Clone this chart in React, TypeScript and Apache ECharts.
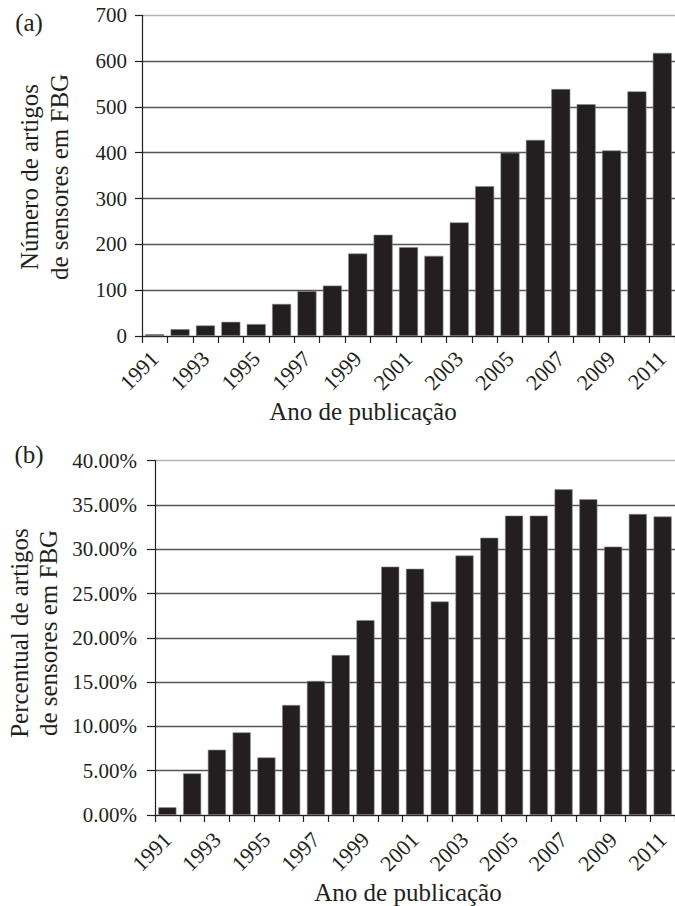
import React, { useEffect, useRef } from "react";
import * as echarts from "echarts";

const years = [
  "1991", "1992", "1993", "1994", "1995", "1996", "1997", "1998", "1999", "2000",
  "2001", "2002", "2003", "2004", "2005", "2006", "2007", "2008", "2009", "2010", "2011",
];
const articleCounts = [4, 15, 23, 31, 26, 70, 98, 110, 180, 221, 194, 175, 248, 327, 400, 428, 539, 506, 405, 534, 618];
const articlePercents = [0.87, 4.7, 7.37, 9.33, 6.5, 12.42, 15.13, 18.06, 22.0, 28.04, 27.8, 24.1, 29.3, 31.3, 33.8, 33.8, 36.77, 35.64, 30.3, 33.98, 33.7];

const panelLabels = ["(a)", "(b)"];
const yTitleTop = ["Número de artigos", "de sensores em FBG"];
const yTitleBottom = ["Percentual de artigos", "de sensores em FBG"];
const xTitle = "Ano de publicação";

const FONT = "Liberation Serif";
const INK = "#231f20";

export default function App() {
  const ref = useRef<HTMLDivElement>(null);
  useEffect(() => {
    if (!ref.current) return;
    const chart = echarts.init(ref.current, undefined, { renderer: "svg" });
    const gridColors = (n: number) => {
      const arr: string[] = [];
      for (let i = 0; i < n; i++) arr.push(i === n - 1 ? "#b5b5b5" : "#555555");
      return arr;
    };
    const xAxisBase = (gridIndex: number, margin: number) => ({
      type: "category" as const,
      gridIndex,
      data: years,
      axisLine: { lineStyle: { color: INK, width: 1.2 } },
      axisTick: { show: true, interval: 0, length: 7, lineStyle: { color: INK, width: 1.2 } },
      axisLabel: {
        interval: 1,
        rotate: 45,
        margin,
        fontFamily: FONT,
        fontSize: 22,
        color: INK,
      },
    });
    const text = (t: string, x: number, y: number, size: number, rotation = 0) => ({
      type: "text" as const,
      x,
      y,
      rotation,
      style: {
        text: t,
        fontFamily: FONT,
        fontSize: size,
        fill: INK,
        textAlign: "center",
        textVerticalAlign: "middle",
      },
    });
    chart.setOption({
      animation: false,
      backgroundColor: "#ffffff",
      grid: [
        { left: 142, top: 15.3, height: 320.7, right: -2 },
        { left: 155, top: 460.7, height: 354.3, right: -5 },
      ],
      xAxis: [xAxisBase(0, 19), xAxisBase(1, 21)],
      yAxis: [
        {
          type: "value",
          gridIndex: 0,
          min: 0,
          max: 700,
          interval: 100,
          axisLine: { show: true, lineStyle: { color: INK, width: 1.2 } },
          axisTick: { show: true, length: 7, lineStyle: { color: INK, width: 1.2 } },
          axisLabel: { margin: 15, fontFamily: FONT, fontSize: 21, color: INK },
          splitLine: { show: true, lineStyle: { color: gridColors(8), width: 1.3 } },
        },
        {
          type: "value",
          gridIndex: 1,
          min: 0,
          max: 40,
          interval: 5,
          axisLine: { show: true, lineStyle: { color: INK, width: 1.2 } },
          axisTick: { show: true, length: 8, lineStyle: { color: INK, width: 1.2 } },
          axisLabel: {
            margin: 18,
            fontFamily: FONT,
            fontSize: 21,
            color: INK,
            formatter: (v: number) => v.toFixed(2) + "%",
          },
          splitLine: { show: true, lineStyle: { color: gridColors(9), width: 1.3 } },
        },
      ],
      series: [
        {
          type: "bar",
          xAxisIndex: 0,
          yAxisIndex: 0,
          data: articleCounts,
          barCategoryGap: "25%",
          itemStyle: { color: INK, borderColor: "#8a8a8a", borderWidth: 0.6 },
        },
        {
          type: "bar",
          xAxisIndex: 1,
          yAxisIndex: 1,
          data: articlePercents,
          barCategoryGap: "27%",
          itemStyle: { color: INK, borderColor: "#8a8a8a", borderWidth: 0.6 },
        },
      ],
      graphic: [
        text(panelLabels[0], 29, 22, 25),
        text(panelLabels[1], 29, 454, 25),
        text(yTitleTop[0], 29, 177, 25, Math.PI / 2),
        text(yTitleTop[1], 59, 177, 25, Math.PI / 2),
        text(yTitleBottom[0], 19, 633, 25, Math.PI / 2),
        text(yTitleBottom[1], 48, 633, 25, Math.PI / 2),
        text(xTitle, 363, 411, 25),
        text(xTitle, 408, 892, 25),
      ],
    });
    return () => chart.dispose();
  }, []);
  return (
    <div
      ref={ref}
      style={{ position: "fixed", left: 0, top: 0, width: 675, height: 906, background: "#fff" }}
    />
  );
}
